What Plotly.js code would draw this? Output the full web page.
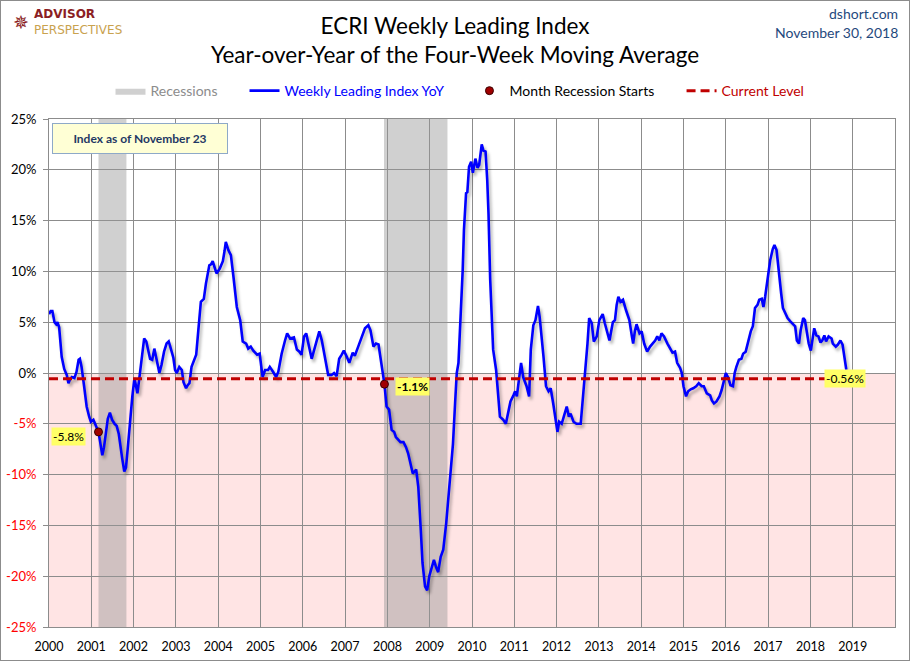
<!DOCTYPE html>
<html><head><meta charset="utf-8">
<script src="https://cdn.plot.ly/plotly-3.0.1.min.js"></script>
<style>
html,body{margin:0;padding:0;background:#fff;}
#wrap{width:908px;height:659px;border:1px solid #8c8c8c;}
#chart{width:908px;height:659px;}
</style></head>
<body><div id="wrap"><div id="chart"></div></div>
<script>
// ---- data (decimal years, YoY %) ----
const weeks = [
2000.00,2000.04,2000.08,2000.13,2000.17,2000.20,2000.24,2000.30,2000.36,2000.42,2000.46,2000.50,2000.54,2000.60,2000.65,2000.70,2000.73,2000.77,2000.83,2000.89,2000.95,2000.99,
2001.05,2001.09,2001.13,2001.17,2001.21,2001.26,2001.30,2001.34,2001.39,2001.44,2001.49,2001.55,2001.60,2001.65,2001.69,2001.73,2001.78,2001.82,2001.86,2001.91,2001.97,
2002.02,2002.06,2002.09,2002.13,2002.19,2002.25,2002.30,2002.36,2002.39,2002.44,2002.49,2002.53,2002.57,2002.61,2002.66,2002.72,2002.78,2002.83,2002.88,2002.94,2002.98,
2003.02,2003.08,2003.14,2003.18,2003.24,2003.28,2003.32,2003.37,2003.43,2003.48,2003.53,2003.59,2003.66,2003.71,2003.79,2003.83,2003.87,2003.90,2003.96,
2004.04,2004.11,2004.15,2004.18,2004.24,2004.30,2004.36,2004.44,2004.52,2004.58,2004.66,2004.71,2004.77,2004.83,2004.92,2004.98,
2005.05,2005.11,2005.18,2005.22,2005.30,2005.37,2005.42,2005.50,2005.58,2005.63,2005.70,2005.79,2005.86,2005.92,2005.97,
2006.03,2006.08,2006.13,2006.21,2006.29,2006.39,2006.45,2006.52,2006.60,2006.68,2006.74,2006.80,2006.86,2006.92,2006.97,
2007.04,2007.10,2007.18,2007.23,2007.31,2007.39,2007.47,2007.55,2007.60,2007.67,2007.73,2007.79,2007.84,2007.90,2007.93,2007.98,
2008.04,2008.10,2008.16,2008.20,2008.26,2008.31,2008.38,2008.44,2008.49,2008.55,2008.60,2008.68,2008.73,2008.79,2008.83,2008.89,2008.94,2008.99,
2009.05,2009.10,2009.15,2009.20,2009.26,2009.32,2009.39,2009.44,2009.50,2009.55,2009.60,2009.64,2009.68,2009.73,2009.78,2009.81,2009.86,2009.89,2009.93,2009.98,
2010.02,2010.08,2010.13,2010.17,2010.23,2010.27,2010.32,2010.36,2010.39,2010.43,2010.47,2010.50,2010.57,2010.62,2010.66,2010.74,2010.80,2010.86,2010.91,2010.98,
2011.02,2011.06,2011.10,2011.16,2011.21,2011.29,2011.35,2011.39,2011.45,2011.50,2011.56,2011.60,2011.69,2011.75,2011.81,2011.86,2011.92,2011.97,
2012.02,2012.06,2012.12,2012.17,2012.24,2012.29,2012.33,2012.40,2012.47,2012.57,2012.62,2012.67,2012.73,2012.77,2012.83,2012.88,2012.95,
2013.01,2013.09,2013.14,2013.20,2013.25,2013.33,2013.38,2013.42,2013.46,2013.51,2013.57,2013.64,2013.72,2013.78,2013.81,2013.85,2013.89,2013.96,
2014.01,2014.07,2014.14,2014.21,2014.27,2014.33,2014.38,2014.43,2014.48,2014.54,2014.62,2014.68,2014.74,2014.80,2014.85,2014.92,2014.96,
2015.00,2015.06,2015.11,2015.17,2015.23,2015.30,2015.36,2015.43,2015.48,2015.55,2015.63,2015.67,2015.72,2015.78,2015.85,2015.90,2015.96,
2016.00,2016.06,2016.11,2016.17,2016.21,2016.25,2016.31,2016.37,2016.41,2016.47,2016.53,2016.59,2016.64,2016.69,2016.75,2016.79,2016.85,2016.89,2016.93,2016.99,
2017.05,2017.11,2017.15,2017.20,2017.25,2017.31,2017.35,2017.40,2017.46,2017.52,2017.58,2017.64,2017.68,2017.73,2017.77,2017.83,2017.87,2017.91,2017.96,
2018.01,2018.05,2018.09,2018.14,2018.19,2018.24,2018.28,2018.33,2018.37,2018.43,2018.50,2018.53,2018.60,2018.65,2018.71,2018.76,2018.81,2018.85,2018.89
];
const wliYoY = [
5.8,6.1,6.1,5.0,4.8,5.0,4.5,1.6,0.4,-0.2,-1.0,-0.6,-0.4,-0.5,0.1,1.3,1.4,0.6,-1.3,-3.3,-4.3,-4.8,
-4.6,-5.0,-5.3,-5.8,-6.8,-8.1,-7.3,-5.8,-4.5,-3.9,-4.6,-5.0,-5.2,-6.0,-7.0,-8.4,-9.7,-9.3,-7.5,-5.0,-2.3,
-0.5,-1.6,-2.0,-0.7,1.6,3.4,3.1,1.9,1.4,1.3,2.4,1.6,0.6,0.0,0.8,2.1,2.9,3.1,2.4,1.5,0.3,
0.0,0.6,0.3,-0.9,-1.5,-1.2,-1.0,0.6,1.2,1.8,4.2,7.0,7.3,8.8,10.6,10.7,11.0,10.5,9.8,
10.3,11.0,12.0,12.9,12.1,11.6,9.5,6.5,5.2,3.1,2.9,2.4,2.6,2.2,1.8,1.9,
-0.4,0.3,0.3,0.6,0.1,-0.4,0.1,1.9,3.2,3.9,3.4,3.5,2.3,2.1,1.8,
3.6,3.9,2.9,1.4,2.6,4.1,3.2,1.6,-0.2,-0.2,0.0,-0.3,1.4,1.8,2.2,
1.6,1.0,2.0,1.7,2.6,3.6,4.4,4.7,4.2,2.6,2.9,2.8,1.4,-0.4,-1.1,-3.3,
-3.6,-5.6,-5.8,-6.3,-6.6,-6.8,-6.8,-7.3,-7.9,-8.9,-9.9,-9.5,-11.2,-15.5,-18.7,-21.0,-21.4,-20.0,
-19.1,-18.4,-19.1,-19.6,-18.1,-17.4,-14.8,-12.2,-9.5,-7.0,-3.0,0.0,1.0,4.9,10.1,14.1,17.7,17.8,20.3,20.8,
19.7,21.1,20.2,20.5,22.5,21.9,21.8,19.0,15.7,9.2,4.2,2.3,0.3,-2.3,-4.3,-4.6,-5.0,-3.8,-2.8,-2.2,
-1.8,-2.3,-0.7,1.0,-0.4,-1.3,-2.3,2.3,4.7,5.2,6.6,5.5,1.6,-1.3,-1.8,-1.5,-3.0,-4.3,
-5.8,-4.8,-5.0,-4.3,-3.3,-4.3,-4.0,-4.8,-5.0,-5.0,-2.7,0.3,2.9,5.4,4.9,3.1,3.6,
5.2,5.8,4.9,3.9,3.2,5.0,5.2,6.7,7.5,7.0,7.2,6.2,5.2,3.6,2.9,4.1,4.8,3.9,
4.1,2.9,2.1,2.6,2.9,3.2,3.6,3.2,3.9,3.6,2.9,2.4,2.0,2.1,1.0,0.5,0.0,
-1.3,-2.3,-1.8,-1.6,-1.5,-1.3,-1.0,-1.3,-1.3,-2.0,-2.2,-2.7,-3.0,-2.8,-2.3,-1.7,-0.7,
0.0,-0.5,-1.2,-1.3,0.0,0.6,1.3,1.4,1.9,2.1,3.1,4.1,4.6,6.4,6.7,7.2,7.3,6.5,7.5,9.5,
11.1,12.2,12.6,12.1,9.8,7.8,6.4,6.0,5.4,5.1,4.8,4.6,3.2,2.9,4.2,5.4,5.2,4.1,2.9,
2.2,3.4,4.4,3.7,3.6,3.0,3.2,3.7,3.1,3.6,3.4,2.9,2.6,2.8,3.2,2.8,1.3,0.3,-0.56
];
const recessionStart = [2001.17, 2007.92];
const recessionEnd   = [2001.83, 2009.42];
const recStartX = [2001.17, 2007.93];
const recStartY = [-5.8, -1.1];
const recStartLabels = ['-5.8%', '-1.1%'];
const currentLevel = -0.56;
const currentLabel = '-0.56%';
const yTickVals = [-25,-20,-15,-10,-5,0,5,10,15,20,25];
const yTickText = ['-25%','-20%','-15%','-10%','-5%','0%','5%','10%','15%','20%','25%'];
const xTickVals = [2000,2001,2002,2003,2004,2005,2006,2007,2008,2009,2010,2011,2012,2013,2014,2015,2016,2017,2018,2019];
const xTickText = xTickVals.map(String);
const yMin = -25, yMax = 25, xMin = 2000, xMax = 2020;

// ---- build ----
const recX = [], recY = [];
recessionStart.forEach((s, i) => {
  const e = recessionEnd[i];
  recX.push(s, s, e, e, s, null);
  recY.push(yMin, yMax, yMax, yMin, yMin, null);
});
const lastX = weeks[weeks.length - 1];
const FONT = 'Lato, "Open Sans", sans-serif';

const traces = [
  {x: recX, y: recY, type: 'scatter', mode: 'lines', fill: 'toself',
   fillcolor: 'rgba(150,150,150,0.45)', line: {width: 0, color: 'rgba(0,0,0,0)'},
   name: '<span style="color:#8c8c8c">Recessions</span>', hoverinfo: 'skip', legend: 'legend'},
  {x: weeks, y: wliYoY, type: 'scatter', mode: 'lines',
   line: {color: '#0000FF', width: 2.6},
   name: '<span style="color:#0000FF">Weekly Leading Index YoY</span>', legend: 'legend2'},
  {x: recStartX, y: recStartY, type: 'scatter', mode: 'markers',
   marker: {size: 8, color: '#A00000', line: {color: '#3a0000', width: 1}},
   name: '<span style="color:#000">Month Recession Starts</span>', legend: 'legend3'},
  {x: [xMin, lastX], y: [currentLevel, currentLevel], type: 'scatter', mode: 'lines',
   line: {color: '#C00000', width: 3, dash: '9px,5px'},
   name: '<span style="color:#C00000">Current Level</span>', legend: 'legend4'}
];

const labelStyle = {font: {family: FONT, size: 12, color: '#000'}, bgcolor: '#FFFF66', borderpad: 1, showarrow: false};
const annotations = [
  Object.assign({x: recStartX[0], y: recStartY[0], xref: 'x', yref: 'y', text: recStartLabels[0],
    xanchor: 'right', xshift: -12, yshift: -5}, labelStyle),
  Object.assign({x: recStartX[1], y: recStartY[1], xref: 'x', yref: 'y', text: '<b>' + recStartLabels[1] + '</b>',
    xanchor: 'left', xshift: 11, yshift: -2}, labelStyle),
  Object.assign({x: lastX, y: currentLevel, xref: 'x', yref: 'y', text: currentLabel,
    xanchor: 'center', xshift: -3, yshift: 0}, labelStyle),
  {x: 0.0035, y: 0.992, xref: 'paper', yref: 'paper', xanchor: 'left', yanchor: 'top',
   text: '<b>Index as of November 23</b>', showarrow: false,
   font: {family: FONT, size: 12, color: '#1F3864'}, bgcolor: '#FFFFD5',
   bordercolor: '#8EA9C8', borderwidth: 1, borderpad: 7, width: 160},
  {x: 1.006, y: 1.207, xref: 'paper', yref: 'paper', xanchor: 'right', yanchor: 'middle',
   text: 'dshort.com', showarrow: false, font: {family: FONT, size: 14, color: '#1F497D'}},
  {x: 1.006, y: 1.171, xref: 'paper', yref: 'paper', xanchor: 'right', yanchor: 'middle',
   text: 'November 30, 2018', showarrow: false, font: {family: FONT, size: 14, color: '#1F497D'}},
  {x: -0.0201, y: (626 - 13.5) / 508, xref: 'paper', yref: 'paper', xanchor: 'left', yanchor: 'middle',
   text: '<b>ADVISOR</b>', showarrow: false, font: {family: 'DejaVu Sans', size: 12, color: '#8B1E24'}},
  {x: -0.0201, y: (626 - 28.5) / 508, xref: 'paper', yref: 'paper', xanchor: 'left', yanchor: 'middle',
   text: 'PERSPECTIVES', showarrow: false, font: {family: 'DejaVu Sans', size: 12, color: '#C9A24E'}},
  {x: -0.033, y: (626 - 21) / 508, xref: 'paper', yref: 'paper', xanchor: 'center', yanchor: 'middle',
   text: '✵', showarrow: false, font: {family: 'DejaVu Sans', size: 19, color: '#8B1E24'}}
];

const legendBase = {orientation: 'h', xanchor: 'left', y: 1.055, yanchor: 'middle',
  font: {family: FONT, size: 14}, bgcolor: 'rgba(0,0,0,0)', itemwidth: 30};

const layout = {
  width: 908, height: 659,
  margin: {l: 48, r: 14, t: 118, b: 33},
  paper_bgcolor: '#fff', plot_bgcolor: '#fff',
  font: {family: FONT, size: 12, color: '#000'},
  title: {text: 'ECRI Weekly Leading Index<br>Year-over-Year of the Four-Week Moving Average',
    font: {family: FONT, size: 22.5, color: '#000'}, x: 0.5, xanchor: 'center',
    y: 1 - 33 / 659, yanchor: 'middle', yref: 'container'},
  showlegend: true,
  legend:  Object.assign({}, legendBase, {x: 0.0727}),
  legend2: Object.assign({}, legendBase, {x: 0.2311}),
  legend3: Object.assign({}, legendBase, {x: 0.4970}),
  legend4: Object.assign({}, legendBase, {x: 0.7477}),
  xaxis: {range: [xMin, xMax], tickvals: xTickVals, ticktext: xTickText,
    showgrid: true, gridcolor: '#8c8c8c', gridwidth: 1, zeroline: false,
    showline: true, linecolor: '#8c8c8c', linewidth: 1, mirror: true,
    ticks: '', ticklabelstandoff: 8, tickfont: {family: FONT, size: 12.5, color: '#000'}, fixedrange: true},
  yaxis: {range: [yMin, yMax], tickvals: yTickVals,
    ticktext: yTickText.map((t, i) => yTickVals[i] < 0 ? '<span style="color:#FF0000">' + t + '</span>' : t),
    showgrid: true, gridcolor: '#8c8c8c', gridwidth: 1, zeroline: false,
    showline: true, linecolor: '#8c8c8c', linewidth: 1, mirror: true,
    ticks: 'outside', ticklen: 5, tickcolor: '#8c8c8c', ticklabelstandoff: 4,
    tickfont: {family: FONT, size: 13, color: '#000'}, fixedrange: true},
  shapes: [
    {type: 'rect', xref: 'x', yref: 'y', x0: xMin, x1: xMax, y0: yMin, y1: 0,
     fillcolor: '#FFE4E4', line: {width: 0}, layer: 'below'}
  ],
  annotations: annotations
};

Plotly.newPlot('chart', traces, layout, {displayModeBar: false, staticPlot: true}).then(gd => {
  const tr = gd.querySelectorAll('.scatterlayer .trace');
  if (tr[1]) tr[1].style.filter = 'drop-shadow(2px 3px 1.5px rgba(0,0,0,0.3))';
});
</script>
</body></html>
